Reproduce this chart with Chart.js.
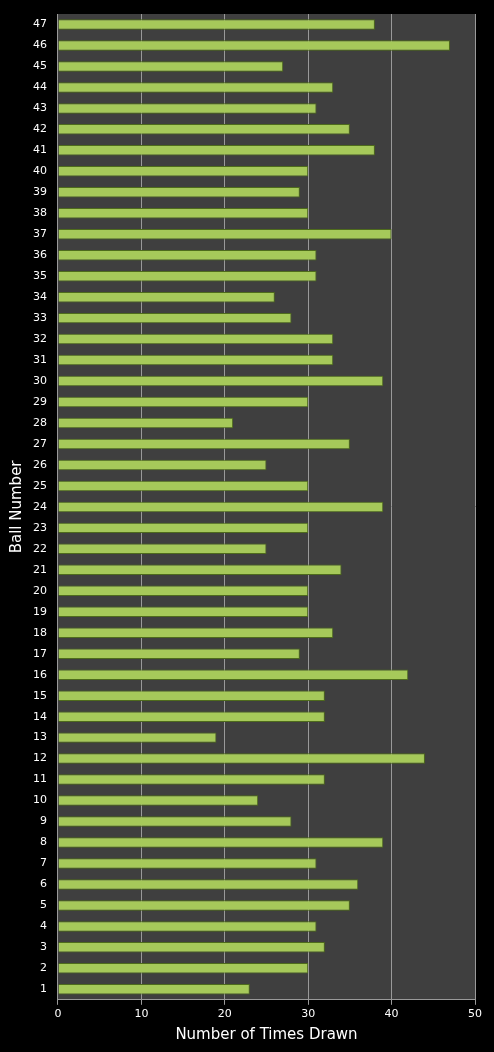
<!DOCTYPE html>
<html>
<head>
<meta charset="utf-8">
<script src="https://cdn.jsdelivr.net/npm/chart.js@4"></script>
<style>
  html, body { margin: 0; padding: 0; background: #000; }
  #wrap { width: 494px; height: 1052px; }
</style>
</head>
<body>
<div id="wrap"><canvas id="grafico"></canvas></div>
<script>
// ball numbers, top to bottom
const bolas = [47, 46, 45, 44, 43, 42, 41, 40, 39, 38, 37, 36, 35, 34, 33, 32, 31, 30, 29, 28, 27, 26, 25, 24,
  23, 22, 21, 20, 19, 18, 17, 16, 15, 14, 13, 12, 11, 10, 9, 8, 7, 6, 5, 4, 3, 2, 1];
const vezes = [38, 47, 27, 33, 31, 35, 38, 30, 29, 30, 40, 31, 31, 26, 28, 33, 33, 39, 30, 21, 35, 25, 30, 39,
  30, 25, 34, 30, 30, 33, 29, 42, 32, 32, 19, 44, 32, 24, 28, 39, 31, 36, 35, 31, 32, 30, 23];
const xTicks = [0, 10, 20, 30, 40, 50];

// fundo cinza da area de plotagem
const fundoArea = {
  id: 'fundoArea',
  beforeDraw(chart) {
    const { ctx, chartArea: a } = chart;
    ctx.save();
    ctx.fillStyle = '#3f3f3f';
    ctx.fillRect(a.left, a.top, a.right - a.left, a.bottom - a.top);
    ctx.restore();
  }
};

function gradienteBarra(context) {
  const el = context.element;
  if (!el || el.y === undefined) return '#a6c95a';
  const h = el.height || 10;
  const g = context.chart.ctx.createLinearGradient(0, el.y - h / 2, 0, el.y + h / 2);
  g.addColorStop(0, '#e2f5a8');
  g.addColorStop(0.45, '#a9cf5c');
  g.addColorStop(1, '#6f9630');
  return g;
}

new Chart(document.getElementById('grafico'), {
  type: 'bar',
  data: {
    labels: bolas,
    datasets: [{
      data: vezes,
      backgroundColor: gradienteBarra,
      borderColor: '#4e6b1c',
      borderWidth: 1,
      categoryPercentage: 0.5,
      barPercentage: 1.0
    }]
  },
  plugins: [fundoArea],
  options: {
    indexAxis: 'y',
    responsive: true,
    maintainAspectRatio: false,
    animation: false,
    layout: { padding: { top: 14, right: 19, bottom: 4, left: 4 } },
    plugins: { legend: { display: false }, tooltip: { enabled: false } },
    scales: {
      x: {
        min: 0, max: 50,
        afterBuildTicks(axis) { axis.ticks = xTicks.map(v => ({ value: v })); },
        grid: { color: '#9a9a9a', drawTicks: true, tickLength: 5, tickColor: '#9a9a9a' },
        border: { color: '#9a9a9a' },
        ticks: { color: '#fff', font: { family: 'DejaVu Sans', size: 11 } },
        title: { display: true, text: 'Number of Times Drawn', color: '#fff',
          font: { family: 'DejaVu Sans', size: 15 }, padding: { top: 2 } }
      },
      y: {
        grid: { display: false, drawTicks: true },
        border: { color: '#9a9a9a' },
        ticks: { color: '#fff', autoSkip: false, font: { family: 'DejaVu Sans', size: 11 } },
        title: { display: true, text: 'Ball Number', color: '#fff',
          font: { family: 'DejaVu Sans', size: 15 } }
      }
    }
  }
});
</script>
</body>
</html>
